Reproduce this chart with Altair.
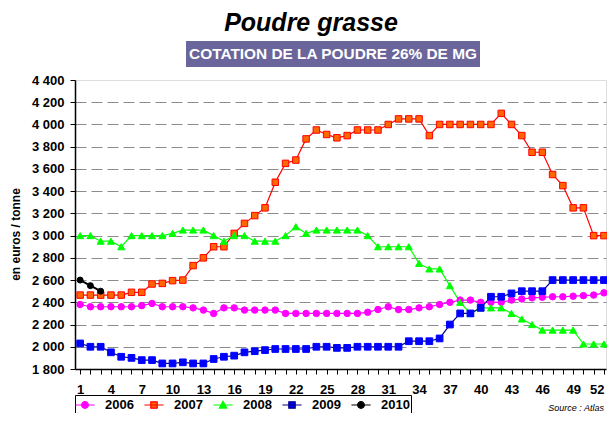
import altair as alt
import pandas as pd

# ---------------- data ----------------
weeks = list(range(1, 53))
years = ["2006", "2007", "2008", "2009", "2010"]

prices_2006 = [2380, 2360, 2360, 2360, 2360, 2360, 2370, 2390, 2360, 2360,
               2360, 2350, 2330, 2300, 2350, 2350, 2330, 2330, 2330, 2330,
               2300, 2300, 2300, 2300, 2300, 2300, 2300, 2300, 2310, 2335,
               2360, 2335, 2335, 2350, 2360, 2380, 2400, 2420, 2420, 2400,
               2400, 2400, 2420, 2430, 2440, 2445, 2450, 2450, 2455, 2460,
               2465, 2485]
prices_2007 = [2465, 2465, 2465, 2465, 2465, 2490, 2490, 2565, 2570, 2595,
               2600, 2730, 2800, 2900, 2900, 3020, 3110, 3180, 3250, 3480,
               3650, 3680, 3870, 3950, 3910, 3880, 3900, 3950, 3950, 3950,
               4000, 4050, 4050, 4050, 3900, 4000, 4000, 4000, 4000, 4000,
               4000, 4100, 4000, 3900, 3750, 3750, 3550, 3450, 3250, 3250,
               3000, 3000]
prices_2008 = [3000, 3000, 2950, 2950, 2900, 3000, 3000, 3000, 3000, 3020,
               3050, 3050, 3050, 3000, 2950, 3000, 3000, 2950, 2950, 2950,
               3000, 3080, 3020, 3050, 3050, 3050, 3050, 3050, 3000, 2900,
               2900, 2900, 2900, 2750, 2700, 2700, 2550, 2400, 2300, 2350,
               2350, 2350, 2300, 2250, 2200, 2150, 2150, 2150, 2150, 2025,
               2025, 2025]
prices_2009 = [2030, 2000, 2000, 1950, 1910, 1900, 1880, 1880, 1850, 1850,
               1860, 1850, 1850, 1890, 1910, 1920, 1950, 1960, 1970, 1980,
               1980, 1980, 1980, 2000, 2000, 1990, 1990, 2000, 2000, 2000,
               2000, 2000, 2050, 2050, 2050, 2075, 2200, 2300, 2300, 2350,
               2450, 2450, 2480, 2500, 2500, 2500, 2600, 2600, 2600, 2600,
               2600, 2600]
prices_2010 = [2600, 2550, 2500]

series = [prices_2006, prices_2007, prices_2008, prices_2009, prices_2010]

y_ticks = list(range(1800, 4401, 200))

title_text = "Poudre grasse"
subtitle_text = "COTATION DE LA POUDRE 26% DE MG"
y_title = "en euros / tonne"
source_text = "Source : Atlas"

# ---------------- styles ----------------
line_colors = ["#FF00FF", "#FF0000", "#00FF00", "#000080", "#000000"]
marker_fills = ["#FF00FF", "#FF6600", "#00FF00", "#0000FF", "#000000"]
marker_strokes = ["#FF00FF", "#FF0000", "#00FF00", "#0000FF", "#000000"]
marker_shapes = ["circle", "square", "triangle-up", "square", "circle"]
marker_sizes = [42, 42, 50, 45, 36]
line_widths = [1.2, 1.2, 1.2, 1.2, 2.0]

circle_p = "M-1.2,0L1.2,0M0.42,0A0.42,0.42,0,1,1,-0.42,0A0.42,0.42,0,1,1,0.42,0Z"
square_p = "M-1.2,0L1.2,0M-0.4,-0.4L0.4,-0.4L0.4,0.4L-0.4,0.4Z"
tri_p = "M-1.2,0L1.2,0M0,-0.48L0.46,0.38L-0.46,0.38Z"
legend_paths = [circle_p, square_p, tri_p, square_p, circle_p]

FONT = "Liberation Sans"

rows = []
for yr, vals in zip(years, series):
    for w, v in zip(weeks, vals):
        rows.append({"week": w, "price": v, "year": yr})
df = pd.DataFrame(rows)
one = pd.DataFrame({"k": [1]})

x_axis = alt.Axis(
    values=weeks, title=None, grid=False,
    labelExpr="(datum.value - 1) % 3 == 0 ? datum.label : ''",
    labelAlign={"condition": {"test": "datum.value == 52", "value": "right"}, "value": "center"},
    tickSize=5, tickColor="black", domainColor="black", domainWidth=1.5,
    labelFont=FONT, labelFontSize=13, labelFontWeight="bold", labelColor="black",
    labelPadding=9, labelOverlap=False, labelFlush=False,
)
y_axis = alt.Axis(
    values=y_ticks, title=y_title,
    labelExpr="replace(format(datum.value, ','), ',', ' ')",
    tickSize=5, tickColor="black", domainColor="black", domainWidth=1.5,
    labelFont=FONT, labelFontSize=13, labelFontWeight="bold", labelColor="black",
    labelPadding=6,
    grid=True, gridColor="#8c8c8c", gridDash=[11, 5], gridWidth=1,
    gridOpacity={"condition": {"test": "datum.value == 4400 || datum.value == 1800", "value": 0}, "value": 1},
    titleFont=FONT, titleFontSize=12, titleFontWeight="bold", titleColor="black",
    titleAngle=270, titleAlign="center", titleBaseline="middle",
    titleX=-60, titleY=154,
)

X = alt.X("week:Q", scale=alt.Scale(domain=[0.5, 52.2], nice=False, zero=False), axis=x_axis)
Y = alt.Y("price:Q", scale=alt.Scale(domain=[1800, 4400], nice=False, zero=False), axis=y_axis)

layers = []
for i, yr in enumerate(years):
    base = alt.Chart(df).transform_filter(alt.datum.year == yr)
    layers.append(base.mark_line(color=line_colors[i], strokeWidth=line_widths[i]).encode(x=X, y=Y))
for i, yr in enumerate(years):
    base = alt.Chart(df).transform_filter(alt.datum.year == yr)
    layers.append(base.mark_point(shape=marker_shapes[i], filled=True, fill=marker_fills[i],
                                  stroke=marker_strokes[i], strokeWidth=1, size=marker_sizes[i],
                                  opacity=1).encode(x=X, y=Y))

leg = alt.Legend(
    orient="none", legendX=0, legendY=315, direction="horizontal", title=None,
    strokeColor="black", fillColor="white", padding=1,
    symbolSize=256, symbolStrokeWidth=1.2, symbolOpacity=1,
    labelFont=FONT, labelFontSize=13, labelFontWeight="bold", labelColor="black",
    labelOffset=11, columnPadding=8,
)
legend_layer = alt.Chart(df).transform_filter("false").mark_point(filled=True, opacity=1).encode(
    x=X, y=Y,
    fill=alt.Fill("year:N", scale=alt.Scale(domain=years, range=marker_fills), legend=leg),
    stroke=alt.Stroke("year:N", scale=alt.Scale(domain=years, range=line_colors), legend=leg),
    shape=alt.Shape("year:N", scale=alt.Scale(domain=years, range=legend_paths), legend=leg),
)
layers.append(legend_layer)

title_layer = alt.Chart(one).mark_text(
    text=title_text, font=FONT, fontSize=25, fontWeight="bold", fontStyle="italic",
    align="center", baseline="alphabetic", color="black",
).encode(x=alt.value(236), y=alt.value(-49))
box_layer = alt.Chart(one).mark_rect(color="#6A659B").encode(
    x=alt.value(111), x2=alt.value(405), y=alt.value(-39), y2=alt.value(-13))
subtitle_layer = alt.Chart(one).mark_text(
    text=subtitle_text, font=FONT, fontSize=15.4, fontWeight="bold",
    align="center", baseline="alphabetic", color="white",
).encode(x=alt.value(258), y=alt.value(-21))
source_layer = alt.Chart(one).mark_text(
    text=source_text, font=FONT, fontSize=9, fontStyle="italic",
    align="right", baseline="alphabetic", color="black",
).encode(x=alt.value(529), y=alt.value(331))

chart = alt.layer(*layers, title_layer, box_layer, subtitle_layer, source_layer).properties(
    width=531, height=289,
    autosize=alt.AutoSizeParams(type="none"),
    padding={"left": 67, "top": 72, "right": 1, "bottom": 44},
).configure_view(stroke="black", strokeWidth=1).configure(font=FONT)

chart.save("out.html", embed_options={"renderer": "svg", "actions": False})
